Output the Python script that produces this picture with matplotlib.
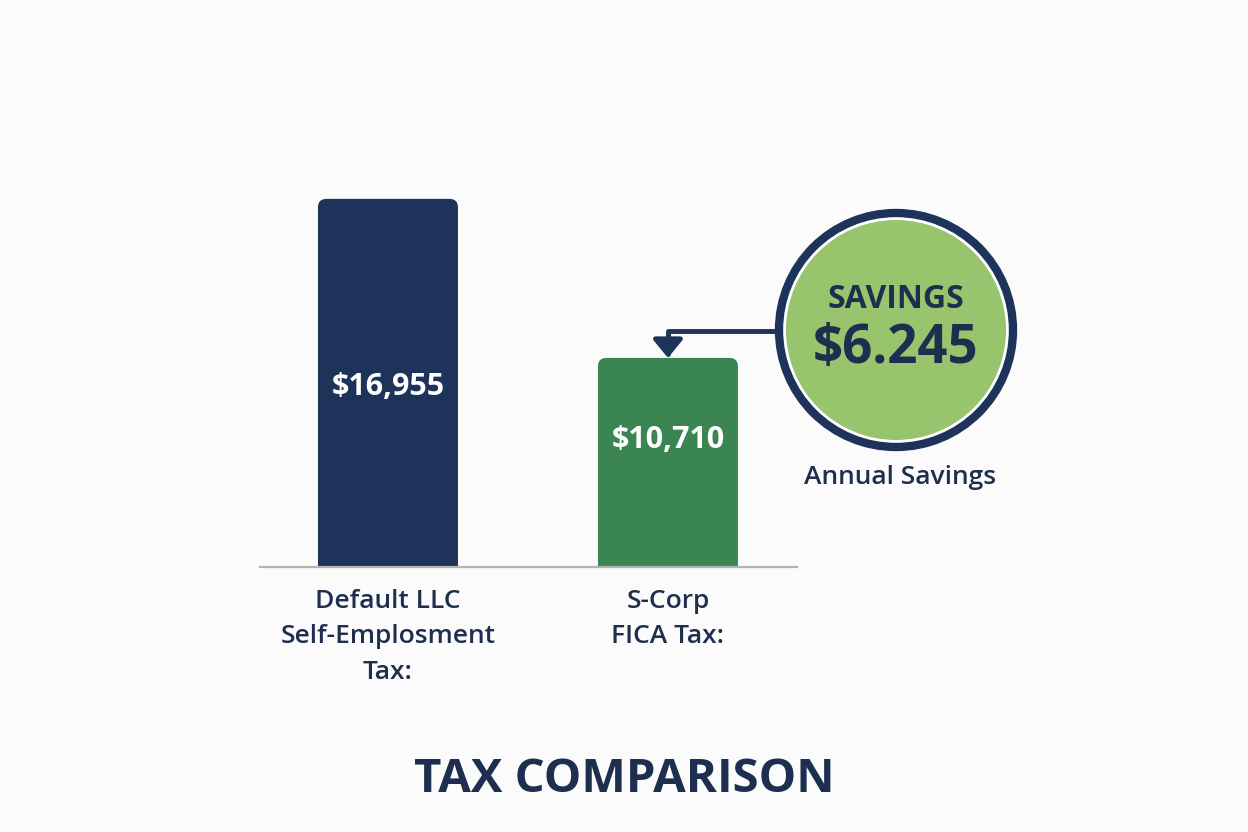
import matplotlib.pyplot as plt
from matplotlib.patches import FancyBboxPatch, Circle

# data
categories = ["Default LLC\nSelf-Emplosment\nTax:", "S-Corp\nFICA Tax:"]
values = [16955, 10710]
value_labels = ["$16,955", "$10,710"]
savings_label = "$6.245"
title = "TAX COMPARISON"

NAVY = "#1d3359"
GREEN = "#3b8553"
LIGHT_GREEN = "#97c46c"
TEXT = "#1e2e4e"
BG = "#fbfbfb"

plt.rcParams['font.family'] = ['Open Sans', 'DejaVu Sans']

fig = plt.figure(figsize=(12.48, 8.32), dpi=100)
fig.patch.set_facecolor(BG)

# bar axes, placed in pixel terms of the 1248x832 canvas
W, H = 1248, 832
ax = fig.add_axes([260 / W, 265 / H, 537 / W, 382 / H])
ax.set_facecolor("none")
x = [0, 1]
bars = ax.bar(x, values, width=0.5, color=[NAVY, GREEN])
ax.set_xlim(-0.457, 1.461)
ax.set_ylim(2500, 17500)

# swap plain bars for rounded ones
for b in bars:
    bx, by = b.get_x(), b.get_y()
    bw, bh = b.get_width(), b.get_height()
    fc = b.get_facecolor()
    b.remove()
    ax.add_patch(FancyBboxPatch((bx, by), bw, bh,
                                boxstyle="round,pad=0,rounding_size=0.03",
                                mutation_aspect=11000, fc=fc, ec="none"))

label_y = [9570, 7500]
for xi, lab, ly in zip(x, value_labels, label_y):
    ax.text(xi, ly, lab, ha="center", va="center", color="white",
            fontsize=22, fontweight="bold")

for s in ["top", "right", "left"]:
    ax.spines[s].set_visible(False)
ax.spines["bottom"].set_color("#b3b3b3")
ax.spines["bottom"].set_linewidth(1.6)
ax.set_yticks([])
ax.set_xticks(x)
ax.set_xticklabels(categories, fontsize=19, fontweight="semibold", color=TEXT,
                   linespacing=1.54)
ax.tick_params(axis="x", length=0, pad=16)

# overlay in pixel coords for the savings badge
ov = fig.add_axes([0, 0, 1, 1])
ov.set_xlim(0, W)
ov.set_ylim(H, 0)
ov.axis("off")
ov.patch.set_alpha(0)

cx, cy = 896, 330
ov.add_patch(Circle((cx, cy), 117, fc="white", ec=NAVY, lw=6))
ov.add_patch(Circle((cx, cy), 110, fc=LIGHT_GREEN, ec="none"))
ov.text(cx, 299, "SAVINGS", ha="center", va="center", color=TEXT,
        fontsize=23, fontweight="bold")
ov.text(cx, 349, savings_label, ha="center", va="center", color=TEXT,
        fontsize=38, fontweight="bold")
ov.text(900, 477, "Annual Savings", ha="center", va="center", color=TEXT,
        fontsize=19, fontweight="semibold")

# elbow arrow from badge to the S-Corp bar
ax.annotate("", xy=(x[1], values[1]), xycoords="data",
            xytext=(cx - 121, 331), textcoords=ov.transData,
            arrowprops=dict(arrowstyle="-|>,head_width=0.45,head_length=0.55",
                            connectionstyle="angle,angleA=0,angleB=90,rad=0",
                            color=NAVY, lw=3.5, mutation_scale=20,
                            shrinkA=0, shrinkB=0))

fig.text(0.5, 1 - 780 / H, title, ha="center", va="center", color=TEXT,
         fontsize=34, fontweight="bold")

fig.savefig("out.png", dpi=100, facecolor=BG)
